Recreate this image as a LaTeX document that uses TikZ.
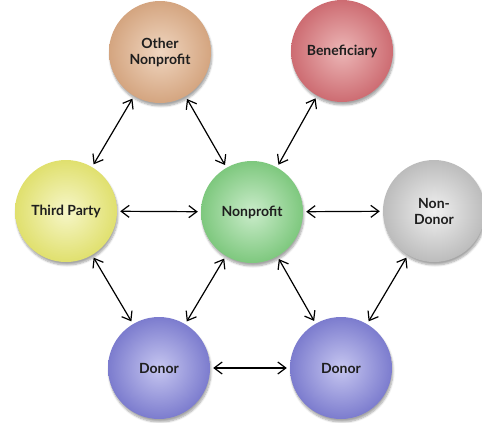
\documentclass[tikz,border=0pt]{standalone}
\usepackage{fontspec}
\setmainfont{Lato}
\usetikzlibrary{arrows.meta,shadows.blur}
\definecolor{tanO}{RGB}{212,165,128}\definecolor{tanI}{RGB}{240,214,192}
\definecolor{redO}{RGB}{205,108,114}\definecolor{redI}{RGB}{236,182,182}
\definecolor{yelO}{RGB}{224,224,110}\definecolor{yelI}{RGB}{246,246,200}
\definecolor{grnO}{RGB}{126,200,126}\definecolor{grnI}{RGB}{202,236,202}
\definecolor{gryO}{RGB}{188,188,188}\definecolor{gryI}{RGB}{240,240,240}
\definecolor{bluO}{RGB}{124,124,206}\definecolor{bluI}{RGB}{198,198,240}
\definecolor{txt}{RGB}{30,30,30}
\tikzset{
  x=1pt,y=-1pt,
  ball/.style n args={2}{circle, minimum size=102pt, inner sep=0pt, align=center,
     shading=radial, inner color=#2, outer color=#1,
     blur shadow={shadow xshift=1pt, shadow yshift=-3pt, shadow blur steps=6, shadow opacity=35},
     font=\fontsize{14}{16}\selectfont\bfseries, text=txt},
  link/.style={{Straight Barb[length=8pt,width=12pt,line width=1.2pt]}-{Straight Barb[length=8pt,width=12pt,line width=1.2pt]},
     line width=1.2pt, shorten <=3pt, shorten >=3pt}
}
\begin{document}
\begin{tikzpicture}
\useasboundingbox (0,0) rectangle (482,423);
\node[ball={tanO}{tanI}] (other) at (160,52) {Other\\Nonprofit};
\node[ball={redO}{redI}] (benef) at (342,51) {Beneficiary};
\node[ball={yelO}{yelI}] (third) at (66,211) {Third Party};
\node[ball={grnO}{grnI}] (np) at (252,212) {Nonprofit};
\node[ball={gryO}{gryI}] (nondonor) at (434,211) {Non-\\Donor};
\node[ball={bluO}{bluI}] (donorL) at (159,368) {Donor};
\node[ball={bluO}{bluI}] (donorR) at (341,368) {Donor};
\draw[link] (other) -- (third);
\draw[link] (other) -- (np);
\draw[link] (benef) -- (np);
\draw[link] (third) -- (np);
\draw[link] (np) -- (nondonor);
\draw[link] (third) -- (donorL);
\draw[link] (np) -- (donorL);
\draw[link] (np) -- (donorR);
\draw[link] (nondonor) -- (donorR);
\draw[link] (donorL) -- (donorR);
\end{tikzpicture}
\end{document}
